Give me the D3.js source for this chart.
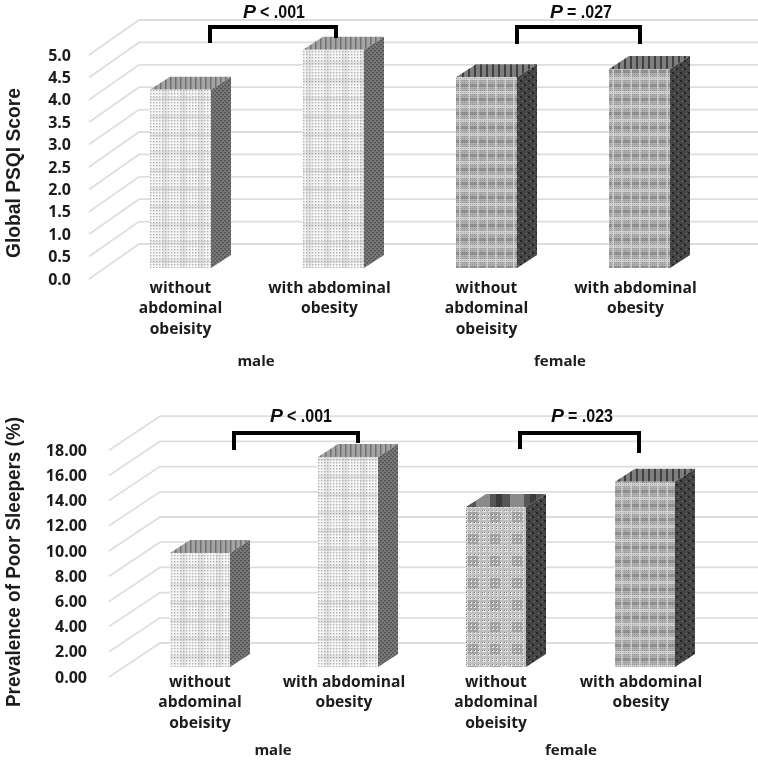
<!DOCTYPE html>
<html><head><meta charset="utf-8">
<script src="https://cdn.jsdelivr.net/npm/d3@7"></script>
<style>html,body{margin:0;padding:0;background:#fff}svg{display:block}</style></head>
<body><svg id="c" width="758" height="760"></svg>
<script>
const groups = ["male", "female"];
const categories = [["without","abdominal","obeisity"],["with abdominal","obesity"],["without","abdominal","obeisity"],["with abdominal","obesity"]];
const psqiValues = [3.98, 4.87, 4.26, 4.44];
const psqiTicks = ["0.0","0.5","1.0","1.5","2.0","2.5","3.0","3.5","4.0","4.5","5.0"];
const poorValues = [9.05, 16.67, 12.7, 14.7];
const poorTicks = ["0.00","2.00","4.00","6.00","8.00","10.00","12.00","14.00","16.00","18.00"];
const psqiP = ["P", "< .001", "P", "= .027"];
const poorP = ["P", "< .001", "P", "= .023"];

const svg = d3.select("#c");
const defs = svg.append("defs");
defs.append("filter").attr("id","soft").append("feGaussianBlur").attr("stdDeviation",0.45);

function pat(id, w, h, bg, items){
  const p = defs.append("pattern").attr("id",id).attr("patternUnits","userSpaceOnUse").attr("width",w).attr("height",h);
  p.append("rect").attr("width",w).attr("height",h).attr("fill",bg);
  items.forEach(i=>p.append("rect").attr("x",i[0]).attr("y",i[1]).attr("width",i[2]).attr("height",i[3]).attr("fill",i[4]).attr("opacity",i[5]===undefined?1:i[5]));
}
function dots(w,h,step,size,col,op){const a=[];for(let x=0;x<w;x+=step)for(let y=0;y<h;y+=step)a.push([x,y,size,size,col,op]);return a;}

pat("frontLight",18,18,"#f6f6f6",[[0,0,6,18,"#c4c4c4",.3],[0,7,18,4,"#c4c4c4",.35],...dots(18,18,3,1.4,"#a0a0a0",.8)]);
pat("sideLight",4,4,"#787878",[[0,0,2,1.5,"#555"],[2,2,2,1.5,"#555"]]);
pat("topLight",5,4,"#a4a4a4",[[0,0,1.5,4,"#5e5e5e",.75]]);
pat("frontDark",18,14,"#b0b0b0",[[0,0,18,3,"#929292"],[0,7,18,3,"#cfcfcf"],[0,0,2,14,"#dedede",.7],[9,0,2,14,"#dedede",.7],...dots(18,14,2,1,"#777",.45)]);
pat("sideDark",8,8,"#444",[[0,0,2,2,"#262626"],[4,4,2,2,"#262626"],[2,5,1,1,"#808080"],[6,1,1,1,"#808080"]]);
pat("topDark",6,4,"#7e7e7e",[[0,0,2,4,"#3a3a3a",.9]]);
pat("frontLattice",22,22,"#c0c0c0",[[6,6,10,10,"#8e8e8e",.6],...dots(22,22,4,2,"#efefef",.8),...dots(22,22,4,1,"#555",.7)]);
pat("topStripe",34,6,"#555",[[0,0,14,6,"#8a8a8a"],[20,0,6,6,"#3a3a3a"]]);

const styles = {
  psqi:[["frontLight","sideLight","topLight"],["frontLight","sideLight","topLight"],["frontDark","sideDark","topDark"],["frontDark","sideDark","topDark"]],
  poor:[["frontLight","sideLight","topLight"],["frontLight","sideLight","topLight"],["frontLattice","sideDark","topStripe"],["frontDark","sideDark","topDark"]]
};

function panel(o){
  const root = svg.append("g").attr("filter","url(#soft)");
  const n = o.ticks.length;
  const yVal = d3.scaleLinear().domain([0,o.max]).range([0,(n-1)*o.step]);
  const x = d3.scaleOrdinal().domain(d3.range(4)).range(o.barX);

  o.ticks.forEach((t,i)=>{
    const yb = o.backY0 - yVal(+t);
    root.append("path").attr("fill","none").attr("stroke","#dedede").attr("stroke-width",1.8)
      .attr("d",`M${o.frontX},${yb+o.dy}L${o.frontX+o.dx},${yb}L758,${yb}`);
    root.append("text").text(t).attr("x",o.labelX).attr("y",o.backY0+o.dy-yVal(+t)+5.5)
      .attr("text-anchor","end").attr("font-family","Open Sans").attr("font-weight",700).attr("font-size",16).attr("fill","#1c1c1c");
  });

  o.values.forEach((v,i)=>{
    const x0=x(i), x1=x0+o.barW, b=o.barBase, t=b-yVal(v), s=styles[o.key][i];
    root.append("polygon").attr("fill",`url(#${s[2]})`)
      .attr("points",[[x0,t],[x1,t],[x1+o.bdx,t-o.bdy],[x0+o.bdx,t-o.bdy]].join(" "));
    root.append("polygon").attr("fill",`url(#${s[1]})`)
      .attr("points",[[x1,t],[x1+o.bdx,t-o.bdy],[x1+o.bdx,b-o.bdy],[x1,b]].join(" "));
    root.append("rect").attr("x",x0).attr("y",t).attr("width",o.barW).attr("height",yVal(v)).attr("fill",`url(#${s[0]})`);
    categories[i].forEach((line,j)=>{
      root.append("text").text(line).attr("x",x0+o.barW/2+(i%2?-4:0)).attr("y",o.catY+j*o.catStep)
        .attr("text-anchor","middle").attr("font-family","Open Sans").attr("font-weight",700).attr("font-size",15.6).attr("fill","#1c1c1c");
    });
  });

  groups.forEach((g,i)=>{
    root.append("text").text(g).attr("x",o.groupX[i]).attr("y",o.groupY).attr("text-anchor","middle")
      .attr("font-family","Open Sans").attr("font-weight",700).attr("font-size",15).attr("fill","#1c1c1c");
  });

  root.append("text").text(o.title).attr("transform",`translate(${o.titleX},${o.titleY}) rotate(-90)`)
    .attr("text-anchor","middle").attr("font-family","Liberation Sans").attr("font-weight",700)
    .attr("font-size",o.titleSize).attr("textLength",o.titleLen).attr("lengthAdjust","spacingAndGlyphs").attr("fill","#1c1c1c");

  o.brackets.forEach((br,i)=>{
    root.append("path").attr("fill","none").attr("stroke","#000").attr("stroke-width",4)
      .attr("d",`M${br[0]},${br[2]}V${o.brY}H${br[1]}V${br[3]}`);
    root.append("text").text(o.p[i*2]).attr("x",br[4]-31).attr("y",o.pY).attr("font-family","Liberation Sans")
      .attr("font-style","italic").attr("font-weight",700).attr("font-size",19).attr("fill","#111")
      .attr("textLength",13).attr("lengthAdjust","spacingAndGlyphs");
    root.append("text").text(o.p[i*2+1]).attr("x",br[4]-14).attr("y",o.pY).attr("font-family","Liberation Sans")
      .attr("font-weight",700).attr("font-size",19).attr("fill","#111")
      .attr("textLength",45).attr("lengthAdjust","spacingAndGlyphs");
  });
}

panel({key:"psqi",values:psqiValues,ticks:psqiTicks,max:5,step:22.4,backY0:244,dy:35,dx:50,frontX:89,labelX:71,
  barX:[150,303,456,609],barW:61,bdx:20,bdy:13,barBase:268,catY:292.5,catStep:20.7,groupX:[256,560],groupY:366,
  title:"Global PSQI Score",titleX:20,titleY:173,titleSize:21,titleLen:170,
  brY:27,pY:18,p:psqiP,brackets:[[210,336,43,38,274],[517,640,44,44,581]]});
panel({key:"poor",values:poorValues,ticks:poorTicks,max:18,step:25.2,backY0:643,dy:34,dx:51,frontX:109,labelX:87,
  barX:[170,318,466,615],barW:60,bdx:20,bdy:13,barBase:667,catY:687,catStep:20.3,groupX:[273,571],groupY:755,
  title:"Prevalence of Poor Sleepers (%)",titleX:20,titleY:562,titleSize:21,titleLen:290,
  brY:433,pY:422,p:poorP,brackets:[[234,358,450,443,301],[520,639,449,453,582]]});
</script></body></html>
